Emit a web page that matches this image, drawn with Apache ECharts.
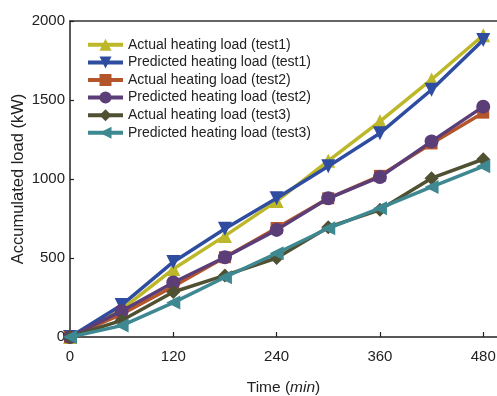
<!DOCTYPE html>
<html><head><meta charset="utf-8">
<script src="https://cdn.jsdelivr.net/npm/echarts@6/dist/echarts.min.js"></script>
<style>html,body{margin:0;padding:0;background:#fff}#c{width:497px;height:396px}</style>
</head><body><div id="c"></div>
<script>
var times = [0, 60, 120, 180, 240, 300, 360, 420, 480];
var xTicks = [0, 120, 240, 360, 480];
var seriesNames = ['Actual heating load (test1)', 'Predicted heating load (test1)', 'Actual heating load (test2)', 'Predicted heating load (test2)', 'Actual heating load (test3)', 'Predicted heating load (test3)'];
var actual1 = [0, 175, 430, 640, 860, 1115, 1365, 1630, 1910];
var predicted1 = [0, 202, 475, 685, 878, 1080, 1290, 1565, 1880];
var actual2 = [0, 145, 320, 505, 690, 878, 1020, 1225, 1420];
var predicted2 = [0, 165, 345, 505, 678, 878, 1013, 1238, 1458];
var actual3 = [0, 105, 285, 390, 500, 695, 805, 1005, 1125];
var predicted3 = [0, 72, 218, 378, 530, 688, 815, 950, 1080];
var colors = ['#bdb72a', '#2e4ca0', '#b4552a', '#5b3d78', '#505032', '#3e8891'];
var symbols = ['triangle', 'triangle', 'rect', 'circle', 'diamond', 'triangle'];
var rotates = [0, 180, 0, 0, 0, 90];
var sizes = [14, 14, 12, 14, 14, 14];
var allData = [actual1, predicted1, actual2, predicted2, actual3, predicted3];

var FONT = '"Liberation Sans", Arial, Helvetica, sans-serif';
var chart = echarts.init(document.getElementById('c'), null, {renderer: 'canvas'});
var series = allData.map(function (d, i) {
  return {
    name: seriesNames[i], type: 'line',
    data: d.map(function (v, j) { return [times[j], v]; }),
    symbol: symbols[i], symbolSize: sizes[i], symbolRotate: rotates[i],
    itemStyle: {color: colors[i]},
    lineStyle: {color: colors[i], width: 3.5},
    z: 2 + i, animation: false
  };
});
function plain(v) { return String(v); }
chart.setOption({
  animation: false,
  grid: {left: 70, right: 0, top: 21, bottom: 59, containLabel: false, outerBoundsMode: 'none'},
  legend: {
    left: 86, top: 36, padding: 0, orient: 'vertical', itemWidth: 35, itemHeight: 15, itemGap: 0,
    lineStyle: {width: 4},
    textStyle: {fontFamily: FONT, fontSize: 14, color: '#222', lineHeight: 17.6},
    data: seriesNames
  },
  xAxis: [{
    type: 'value', min: 0, max: 496, interval: 120,
    name: 'Time ({i|min})', nameLocation: 'middle', nameGap: 43, nameMoveOverlap: false,
    nameTextStyle: {fontFamily: FONT, fontSize: 15.5, color: '#222', rich: {i: {fontStyle: 'italic', fontFamily: FONT, fontSize: 15.5, color: '#222'}}},
    axisLine: {show: true, lineStyle: {color: '#222', width: 1.5}},
    axisTick: {show: true, inside: true, length: 5, customValues: xTicks, lineStyle: {color: '#222', width: 1.2}},
    axisLabel: {customValues: xTicks, formatter: plain, fontFamily: FONT, fontSize: 15, color: '#222', margin: 12},
    splitLine: {show: false}
  }, {
    type: 'value', position: 'top', min: 0, max: 496,
    axisLine: {show: true, lineStyle: {color: '#333', width: 1.5}},
    axisTick: {show: false}, axisLabel: {show: false}, splitLine: {show: false}
  }],
  yAxis: {
    type: 'value', min: 0, max: 2000, interval: 500,
    name: 'Accumulated load (kW)', nameLocation: 'middle', nameGap: 43, nameRotate: 90, nameMoveOverlap: false,
    nameTextStyle: {fontFamily: FONT, fontSize: 16.5, color: '#222'},
    axisLine: {show: true, lineStyle: {color: '#222', width: 1.5}},
    axisTick: {show: true, inside: true, length: 4, lineStyle: {color: '#222', width: 1.2}},
    axisLabel: {formatter: plain, fontFamily: FONT, fontSize: 15, color: '#222', margin: 5},
    splitLine: {show: false}
  },
  series: series
});
</script></body></html>
